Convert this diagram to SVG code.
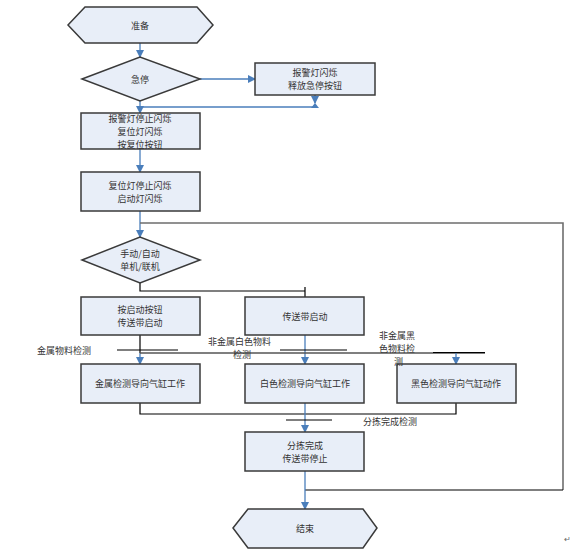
<svg xmlns="http://www.w3.org/2000/svg" width="572" height="557" viewBox="0 0 572 557">
<defs>
<style>
.n{fill:#E8EEF8;stroke:#3A3A3A;stroke-width:1.5}
.t{font-family:"Noto Sans CJK SC","Noto Sans",sans-serif;font-size:9px;fill:#333;text-anchor:middle;dominant-baseline:central}
.l{font-family:"Noto Sans CJK SC","Noto Sans",sans-serif;font-size:9px;fill:#333;dominant-baseline:central}
.b{fill:none;stroke:#4A7EBB;stroke-width:1.3}
.k{fill:none;stroke:#000;stroke-width:1.2}
.g{fill:none;stroke:#6E6E6E;stroke-width:1.6}
</style>
<marker id="a" markerWidth="8" markerHeight="8" refX="7" refY="4" orient="auto" markerUnits="userSpaceOnUse">
<path d="M0,0 L8,4 L0,8 Z" fill="#4A7EBB"/>
</marker>
</defs>
<rect width="572" height="557" fill="#fff"/>
<g id="connectors">
<path class="b" d="M140,43 V57" marker-end="url(#a)"/>
<path class="b" d="M200,79 H255" marker-end="url(#a)"/>
<path class="b" d="M315,95 V103" marker-end="url(#a)"/>
<path class="b" d="M140,107 H315"/>
<path d="M311,108 L315,103 L319,108 Z" fill="#4A7EBB"/>
<path class="b" d="M140,101 V113" marker-end="url(#a)"/>
<path class="b" d="M140,149 V172" marker-end="url(#a)"/>
<path class="b" d="M140,211 V237" marker-end="url(#a)"/>
<path class="g" d="M140,223 H563 V490"/>
<path class="k" d="M563,490 H305"/>
<path class="k" d="M140,283 V291 H305 M305,287 V297"/>
<path class="k" d="M140,335 V353"/>
<path class="b" d="M140,353 V364" marker-end="url(#a)"/>
<path class="b" d="M305,335 V364" marker-end="url(#a)"/>
<path class="g" d="M140,353 H485" style="stroke:#555;stroke-width:1.3"/>
<path class="k" d="M117,350 H178 M280,350 H347 M433,352.5 H485"/>
<path class="b" d="M456,353 V364" marker-end="url(#a)"/>
<path class="k" d="M140,403 V414 H456 V403"/>
<path class="b" d="M305,403 V432" marker-end="url(#a)"/>
<path class="k" d="M286,420 H332"/>
<path class="b" d="M305,471 V509" marker-end="url(#a)"/>
</g>
<g id="start">
<polygon class="n" points="68,25 85,7 197,7 213,25 197,43 85,43"/>
<text class="t" x="140" y="25">准备</text>
</g>
<g id="estop">
<polygon class="n" points="82,79 140,57 200,79 140,101"/>
<text class="t" x="140" y="79">急停</text>
</g>
<g id="alarm">
<rect class="n" x="255" y="63" width="120" height="32"/>
<text class="t" x="315" y="72.5">报警灯闪烁</text>
<text class="t" x="315" y="85.5">释放急停按钮</text>
</g>
<g id="reset">
<rect class="n" x="81" y="113" width="119" height="36"/>
<text class="t" x="140" y="118">报警灯停止闪烁</text>
<text class="t" x="140" y="131">复位灯闪烁</text>
<text class="t" x="140" y="144">按复位按钮</text>
</g>
<g id="ready">
<rect class="n" x="81" y="172" width="119" height="39"/>
<text class="t" x="140" y="185.5">复位灯停止闪烁</text>
<text class="t" x="140" y="198.5">启动灯闪烁</text>
</g>
<g id="mode">
<polygon class="n" points="82,260 140,237 200,260 140,283"/>
<text class="t" x="140" y="253">手动/自动</text>
<text class="t" x="140" y="266">单机/联机</text>
</g>
<g id="startbtn">
<rect class="n" x="81" y="297" width="119" height="38"/>
<text class="t" x="140" y="309.5">按启动按钮</text>
<text class="t" x="140" y="322.5">传送带启动</text>
</g>
<g id="belt">
<rect class="n" x="245" y="297" width="119" height="38"/>
<text class="t" x="305" y="316">传送带启动</text>
</g>
<g id="metal">
<rect class="n" x="81" y="364" width="119" height="39"/>
<text class="t" x="140" y="383">金属检测导向气缸工作</text>
</g>
<g id="white">
<rect class="n" x="245" y="364" width="119" height="39"/>
<text class="t" x="305" y="383">白色检测导向气缸工作</text>
</g>
<g id="black">
<rect class="n" x="397" y="364" width="119" height="39"/>
<text class="t" x="456" y="383">黑色检测导向气缸动作</text>
</g>
<g id="done">
<rect class="n" x="245" y="432" width="119" height="39"/>
<text class="t" x="305" y="445">分拣完成</text>
<text class="t" x="305" y="458">传送带停止</text>
</g>
<g id="end">
<polygon class="n" points="233,528 248,509 363,509 377,528 363,548 248,548"/>
<text class="t" x="305" y="528">结束</text>
</g>
<g id="labels">
<text class="l" x="37" y="350">金属物料检测</text>
<text class="l" x="208" y="341.5">非金属白色物料</text>
<text class="l" x="233" y="354.5">检测</text>
<text class="l" x="379" y="335">非金属黑</text>
<text class="l" x="379" y="348">色物料检</text>
<text class="l" x="394" y="361">测</text>
<text class="l" x="363" y="421">分拣完成检测</text>
<text class="l" x="564" y="538" style="font-size:8px;fill:#666">↵</text>
</g>
</svg>
